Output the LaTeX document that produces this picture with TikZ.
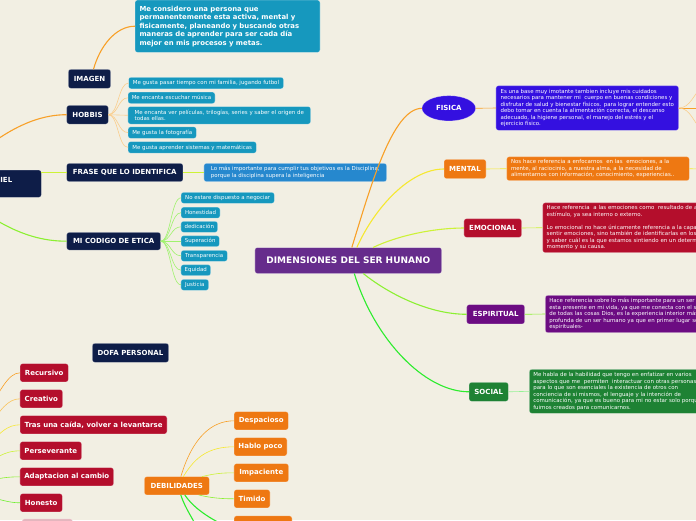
\documentclass[tikz,border=0pt]{standalone}
\usepackage{fontspec}
\usetikzlibrary{shapes.geometric}
\setmainfont{DejaVu Sans}
\definecolor{bgc}{RGB}{242,239,227}
\definecolor{cnavy}{RGB}{14,29,72}
\definecolor{cteal}{RGB}{22,152,190}
\definecolor{cblue}{RGB}{38,136,206}
\definecolor{cpurp}{RGB}{102,44,140}
\definecolor{cfis}{RGB}{52,16,224}
\definecolor{corng}{RGB}{238,120,18}
\definecolor{ccrim}{RGB}{180,14,44}
\definecolor{cespi}{RGB}{108,12,130}
\definecolor{csoc}{RGB}{30,130,52}
\definecolor{cpink}{RGB}{228,182,190}
\definecolor{kor}{RGB}{248,160,40}
\definecolor{korl}{RGB}{250,195,90}
\definecolor{kyel}{RGB}{246,232,48}
\definecolor{kyg}{RGB}{205,242,55}
\definecolor{klime}{RGB}{140,240,50}
\definecolor{kgrn}{RGB}{45,236,45}
\definecolor{kgrnl}{RGB}{150,242,150}
\definecolor{khob}{RGB}{250,205,140}
\definecolor{keti}{RGB}{160,242,110}
\newcommand\xsm{\fontsize{5.45}{6.5}\selectfont}
\newcommand\xhd{\fontsize{7}{8.4}\selectfont\bfseries}
\newcommand\xbg{\fontsize{9}{11}\selectfont\bfseries}
\newcommand\xtop{\fontsize{6.9}{8.5}\selectfont\bfseries}
\tikzset{
  box/.style={rounded corners=2.5pt, inner sep=0pt, outer sep=0pt, text=white,
    draw=white, draw opacity=0.35, line width=0.6pt, align=center},
  hd/.style={box, fill=cnavy, font=\xhd},
  item/.style={box, fill=cteal, font=\xsm},
  det/.style={box, font=\xsm, align=left},
  crim/.style={box, fill=ccrim, font=\xhd},
  orn/.style={box, fill=corng, font=\xhd},
  cn/.style={line width=1.1pt},
  cs/.style={line width=0.6pt},
}
\begin{document}
\begin{tikzpicture}[x=1pt,y=-1pt]
\useasboundingbox (0,0) rectangle (696,520);
\fill[bgc] (0,0) rectangle (696,520);
\clip (0,0) rectangle (696,520);

\node[box, fill=cteal, font=\xtop, minimum width=185pt, minimum height=52.3pt, text width=176pt, align=left] (top) at (227.5,26.2)
 {Me considero una persona que\\permanentemente esta activa, mental y\\fisicamente, planeando y buscando otras\\maneras de aprender para ser cada día\\mejor en mis procesos y metas.};
\node[hd, minimum width=42.4pt, minimum height=19pt] (img) at (89.5,78.8) {IMAGEN};
\node[hd, minimum width=41.6pt, minimum height=18.7pt] (hob) at (87.5,114.7) {HOBBIS};

\node[item, minimum width=155pt, minimum height=11.5pt] (h1) at (206,83) {Me gusta pasar tiempo con mi familia, jugando futbol};
\node[item, minimum width=87pt, minimum height=11.5pt] (h2) at (171.5,97.8) {Me encanta escuchar música};
\node[item, minimum width=182.7pt, minimum height=17.5pt, align=left] (h3) at (219.3,115.3) {Me encanta ver películas, trilogías, series y saber el origen de\\todas ellas.};
\node[item, minimum width=68.3pt, minimum height=11.5pt] (h4) at (162.2,132.6) {Me gusta la fotografía};
\node[item, minimum width=128.3pt, minimum height=11.5pt] (h5) at (192.2,147.4) {Me gusta aprender sistemas y matemáticas};

\node[hd, minimum width=82.6pt, minimum height=27.3pt] (iel) at (0,183.7) {};
\node[text=white, font=\xhd, inner sep=0pt] (ieltxt) at (6.3,179.5) {IEL};

\node[hd, minimum width=116.3pt, minimum height=18.4pt] (fra) at (124.8,172.5) {FRASE QUE LO IDENTIFICA};
\node[det, fill=cblue, minimum width=182.7pt, minimum height=18.4pt] (frab) at (295.3,172.5)
 {Lo más importante para cumplir tus objetivos es la Disciplina,\\porque la disciplina supera la inteligencia};

\node[hd, minimum width=94pt, minimum height=17.7pt] (eti) at (113.7,241.2) {MI CODIGO DE ETICA};
\node[item, minimum width=93.3pt, minimum height=11pt] (e1) at (227.7,197.8) {No estare dispuesto a negociar};
\node[item, minimum width=39pt, minimum height=11pt] (e2) at (200.5,212.7) {Honestidad};
\node[item, minimum width=36.7pt, minimum height=11pt] (e3) at (199.3,226.8) {dedicación};
\node[item, minimum width=38.3pt, minimum height=11pt] (e4) at (200.2,241.2) {Superación};
\node[item, minimum width=46.3pt, minimum height=11pt] (e5) at (204.2,255.8) {Transparencia};
\node[item, minimum width=29.7pt, minimum height=11pt] (e6) at (195.8,270.2) {Equidad};
\node[item, minimum width=27.7pt, minimum height=11pt] (e7) at (194.8,284.8) {Justicia};

\node[box, fill=cpurp, font=\xbg, minimum width=186.7pt, minimum height=26pt] (dim) at (348.3,260.5) {DIMENSIONES DEL SER HUNANO};

\node[box, ellipse, fill=cfis, font=\xhd, minimum width=53.7pt, minimum height=25.3pt] (fis) at (448.8,108.3) {FISICA};
\node[det, fill=cfis, minimum width=182.7pt, minimum height=44.6pt] (fisb) at (587.3,108)
 {Es una base muy imotante tambien incluye mis cuidados\\necesarios para mantener mi~ cuerpo en buenas condiciones y\\disfrutar de salud y bienestar físicos. para lograr entender esto\\debo tomar en cuenta la alimentación correcta, el descanso\\adecuado, la higiene personal, el manejo del estrés y el\\ejercicio físico.};

\node[orn, minimum width=42pt, minimum height=19.4pt] (men) at (465,169) {MENTAL};
\node[det, fill=corng, minimum width=182.6pt, minimum height=24pt, text width=174pt] (menb) at (598,168.7)
 {Nos hace referencia a enfocarnos~ en las~ emociones, a la\\mente, al raciocinio, a nuestra alma, a la necesidad de\\alimentarnos con información, conocimiento, experiencias..};

\node[box, fill=ccrim, font=\xhd, minimum width=57.7pt, minimum height=18.6pt] (emo) at (492.8,228) {EMOCIONAL};
\node[det, fill=ccrim, minimum width=200pt, minimum height=50pt, text width=192pt] (emob) at (642.7,227.7)
 {Hace referencia~ a las emociones como~ resultado de algún\\estímulo, ya sea interno o externo.\\[6.5pt]Lo emocional no hace únicamente referencia a la capacidad de\\sentir emociones, sino también de identificarlas en los demás\\y saber cuál es la que estamos sintiendo en un determinado\\momento y su causa.};

\node[box, fill=cespi, font=\xhd, minimum width=58pt, minimum height=19.3pt] (esp) at (495.7,314.3) {ESPIRITUAL};
\node[det, fill=cespi, minimum width=200pt, minimum height=37.4pt, text width=192pt] (espb) at (645.3,314)
 {Hace referencia sobre lo más importante para un ser humano\\esta presente en mi vida, ya que me conecta con el ser\\de todas las cosas Dios, es la experiencia interior más\\profunda de un ser humano ya que en primer lugar somos\\espirituales-};

\node[box, fill=csoc, font=\xhd, minimum width=39.3pt, minimum height=19pt] (soc) at (488.7,391.8) {SOCIAL};
\node[det, fill=csoc, minimum width=200pt, minimum height=44pt, text width=192pt] (socb) at (629.3,391.3)
 {Me habla de la habilidad que tengo en enfatizar en varios\\aspectos que me~ permiten~ interactuar con otras personas\\para lo que son esenciales la existencia de otros con\\conciencia de si mismos, el lenguaje y la intención de\\comunicación, ya que es bueno para mi no estar solo porque\\fuimos creados para comunicarnos.};

\node[hd, minimum width=76.4pt, minimum height=19pt] (dofa) at (130.5,352.8) {DOFA PERSONAL};

\node[crim, minimum width=48.3pt, minimum height=18.3pt] (c1) at (44.2,372.8) {Recursivo};
\node[crim, minimum width=42.7pt, minimum height=18.3pt] (c2) at (41.3,398.8) {Creativo};
\node[crim, minimum width=147pt, minimum height=18.3pt] (c3) at (93.5,424.8) {Tras una caída, volver a levantarse};
\node[crim, minimum width=61.7pt, minimum height=18.3pt] (c4) at (50.8,450.8) {Perseverante};
\node[crim, minimum width=93.7pt, minimum height=18.3pt] (c5) at (66.8,476.8) {Adaptacion al cambio};
\node[crim, minimum width=42.3pt, minimum height=18.3pt] (c6) at (41.2,502.8) {Honesto};
\node[box, fill=cpink, minimum width=50.7pt, minimum height=18.3pt] (c7) at (47.3,528) {};

\node[orn, minimum width=65pt, minimum height=18.3pt] (deb) at (176.8,485.8) {DEBILIDADES};
\node[orn, minimum width=54.3pt, minimum height=18.3pt] (d1) at (261.2,420.8) {Despacioso};
\node[orn, minimum width=53pt, minimum height=18.3pt] (d2) at (260.5,446.8) {Hablo poco};
\node[orn, minimum width=54.7pt, minimum height=18.3pt] (d3) at (261.3,472.8) {Impaciente};
\node[orn, minimum width=36pt, minimum height=18.3pt] (d4) at (252,498.8) {Timido};
\node[orn, minimum width=58pt, minimum height=18.3pt] (d5) at (263,525) {};

% ---------- free ends ----------
\coordinate (lh) at (-12,146);
\coordinate (lm) at (-12,215);
\coordinate (l1) at (-12,410);
\coordinate (l2) at (-12,428);
\coordinate (l3) at (-12,446);
\coordinate (l4) at (-12,463);
\coordinate (l5) at (-12,481);
\coordinate (l6) at (-12,497);
\coordinate (g1) at (198,530);
\coordinate (g2) at (235,530);
\coordinate (fr) at (700,108);
\coordinate (fru) at (700,90);
\coordinate (frd) at (700,127);
\coordinate (mr) at (700,169);

% ---------- connectors ----------
\draw[cn, kor] ([xshift=3.5pt]dim.north) .. controls +(18,-58) and +(-30,0) .. (fis.west);
\draw[cn, kyel] ([xshift=8.5pt]dim.north) .. controls +(18,-40) and +(-34,0) .. (men.west);
\draw[cn, kyg] ([xshift=24.7pt]dim.north) .. controls +(25,-12) and +(-30,0) .. (emo.west);
\draw[cn, klime] ([xshift=15pt]dim.south) .. controls +(22,18) and +(-40,0) .. (esp.west);
\draw[cn, kgrn] ([xshift=6pt]dim.south) .. controls +(20,65) and +(-45,0) .. (soc.west);

\draw[cs, kor] (fis.east) -- (fisb.west);
\draw[cs, kor] (fisb.east) -- (fr);
\draw[cs, khob] (fisb.east) .. controls +(12,0) and +(-6,3) .. (fru);
\draw[cs, khob] (fisb.east) .. controls +(12,0) and +(-6,-3) .. (frd);
\draw[cs, kyel] (men.east) -- (menb.west);
\draw[cs, kyel] (menb.east) -- (mr);
\draw[cs, kyg] (emo.east) -- (emob.west);
\draw[cs, klime] (esp.east) -- (espb.west);
\draw[cs, kgrnl] (soc.east) -- (socb.west);

\draw[cn, kor] ([xshift=4pt]img.north) .. controls +(6,-22) and +(-20,0) .. (top.west);
\foreach \n in {h1,h2,h3,h4,h5}
  \draw[cs, khob] (hob.east) .. controls +(10,0) and +(-10,0) .. (\n.west);
\draw[cn, kor] (lh) .. controls (20,122) and (45,114.7) .. (hob.west);
\draw[cs, kyg] (iel.east |- fra.west) -- (fra.west);
\draw[cs, kyg] (fra.east) -- (frab.west);
\draw[cn, klime] (lm) .. controls (20,236) and (45,241.2) .. (eti.west);
\foreach \n in {e1,e2,e3,e4,e5,e6,e7}
  \draw[cs, keti] (eti.east) .. controls +(10,0) and +(-10,0) .. (\n.west);

\draw[cs, kor] (l1) .. controls (0,392) and (8,372.8) .. (c1.west);
\draw[cs, korl] (l2) .. controls (0,410) and (8,398.8) .. (c2.west);
\draw[cs, kyel] (l3) .. controls (0,432) and (8,424.8) .. (c3.west);
\draw[cs, kyg] (l4) .. controls (0,455) and (8,450.8) .. (c4.west);
\draw[cs, klime] (l5) .. controls (0,478) and (8,476.8) .. (c5.west);
\draw[cs, klime!70!kgrn] (l6) .. controls (0,499) and (8,502.8) .. (c6.west);

\draw[cs, kor] ([xshift=4pt]deb.north) .. controls +(12,-40) and +(-22,0) .. (d1.west);
\draw[cs, kyel] ([xshift=6.5pt]deb.north) .. controls +(12,-20) and +(-25,0) .. (d2.west);
\draw[cs, kyg] ([xshift=25pt]deb.north) .. controls +(12,-3) and +(-12,0) .. (d3.west);
\draw[cs, klime] ([xshift=22pt]deb.south) .. controls +(12,3) and +(-12,0) .. (d4.west);
\draw[cn, kgrn] ([xshift=4pt]deb.south) .. controls +(5,15) and +(-4,-10) .. (g1);
\draw[cn, kgrn] ([xshift=8pt]deb.south) .. controls +(10,15) and +(-20,-8) .. (g2);
\end{tikzpicture}
\end{document}
